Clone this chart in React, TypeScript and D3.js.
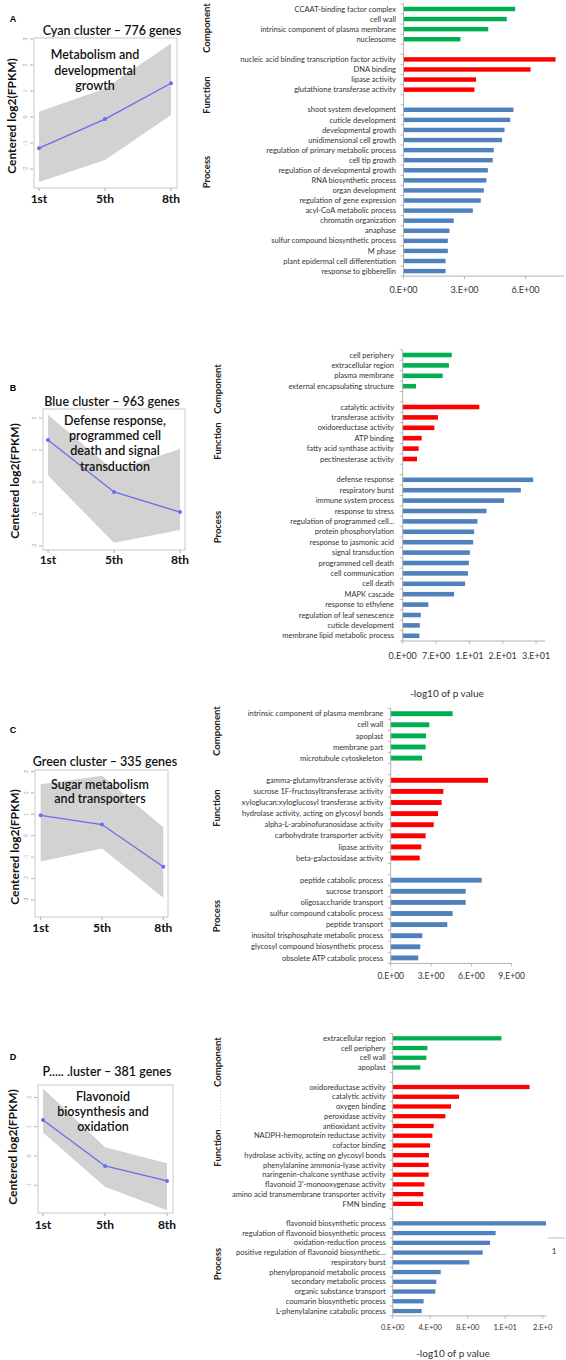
import React from "react";
import * as d3 from "d3";

// ---------- DATA ----------
const TIMEPOINTS = ["1st", "5th", "8th"];

// Cluster profiles (centered log2 FPKM): mean line and grey envelope (upper/lower)
const A_MEAN = [-1.2, -0.08, 1.3];
const A_UPPER = [0.2, 1.1, 2.83];
const A_LOWER = [-2.5, -1.65, 0.08];
const B_MEAN = [1.31, -0.31, -0.94];
const B_UPPER = [2.1, 0.35, 1.03];
const B_LOWER = [0.2, -1.9, -1.5];
const C_MEAN = [0.95, 0.52, -1.45];
const C_UPPER = [2.4, 2.8, 0.4];
const C_LOWER = [-1.2, -0.6, -2.9];
const D_MEAN = [1.23, -0.34, -0.85];
const D_UPPER = [2.3, 0.3, -0.25];
const D_LOWER = [0.8, -1.05, -1.85];

const A_YTICKS = [-2, -1, 0, 1, 2, 3];
const B_YTICKS = [-2, -1, 0, 1, 2];
const C_YTICKS = [-3, -2, -1, 0, 1, 2, 3];
const D_YTICKS = [-1, 0, 1, 2];

const A_TITLE = "Cyan cluster \u2013 776  genes";
const B_TITLE = "Blue cluster \u2013 963 genes";
const C_TITLE = "Green cluster \u2013 335 genes";
const D_TITLE = "P..... .luster \u2013 381 genes";

const A_NOTE = ["Metabolism and", "developmental", "growth"];
const B_NOTE = ["Defense response,", "programmed cell", "death and signal", "transduction"];
const C_NOTE = ["Sugar metabolism", "and transporters"];
const D_NOTE = ["Flavonoid", "biosynthesis and", "oxidation"];

// GO enrichment (-log10 p value)
const A_COMPONENT = ["CCAAT-binding factor complex", "cell wall", "intrinsic component of plasma membrane", "nucleosome"];
const A_COMPONENT_VALUES = [5.49, 5.08, 4.17, 2.8];
const A_FUNCTION = ["nucleic acid binding transcription factor activity", "DNA binding", "lipase activity", "glutathione transferase activity"];
const A_FUNCTION_VALUES = [7.48, 6.25, 3.57, 3.49];
const A_PROCESS = [
  "shoot system development", "cuticle development", "developmental growth", "unidimensional cell growth",
  "regulation of primary metabolic process", "cell tip growth", "regulation of developmental growth",
  "RNA biosynthetic process", "organ development", "regulation of gene expression", "acyl-CoA metabolic process",
  "chromatin organization", "anaphase", "sulfur compound biosynthetic process", "M phase",
  "plant epidermal cell differentiation", "response to gibberellin",
];
const A_PROCESS_VALUES = [5.41, 5.25, 4.97, 4.85, 4.44, 4.39, 4.15, 4.08, 3.95, 3.8, 3.41, 2.47, 2.26, 2.18, 2.18, 2.07, 2.07];
const A_XTICKS = [0, 3, 6];
const A_XTICK_LABELS = ["0.E+00", "3.E+00", "6.E+00"];

const B_COMPONENT = ["cell periphery", "extracellular region", "plasma membrane", "external encapsulating structure"];
const B_COMPONENT_VALUES = [10.3, 9.7, 8.4, 2.8];
const B_FUNCTION = ["catalytic activity", "transferase activity", "oxidoreductase activity", "ATP binding", "fatty acid synthase activity", "pectinesterase activity"];
const B_FUNCTION_VALUES = [16.1, 7.4, 6.65, 3.98, 3.35, 3.0];
const B_PROCESS = [
  "defense response", "respiratory burst", "immune system process", "response to stress",
  "regulation of programmed cell...", "protein phosphorylation", "response to jasmonic acid",
  "signal transduction", "programmed cell death", "cell communication", "cell death", "MAPK cascade",
  "response to ethylene", "regulation of leaf senescence", "cuticle development", "membrane lipid metabolic process",
];
const B_PROCESS_VALUES = [27.4, 24.8, 21.3, 17.6, 15.7, 15.0, 14.8, 14.1, 13.9, 13.7, 13.1, 10.8, 5.4, 3.8, 3.6, 3.5];
const B_XTICKS = [0, 7, 14, 21, 28];
const B_XTICK_LABELS = ["0.E+00", "7.E+00", "1.E+01", "2.E+01", "3.E+01"];

const C_COMPONENT = ["intrinsic component of plasma membrane", "cell wall", "apoplast", "membrane part", "microtubule cytoskeleton"];
const C_COMPONENT_VALUES = [4.61, 2.87, 2.63, 2.6, 2.33];
const C_FUNCTION = [
  "gamma-glutamyltransferase activity", "sucrose 1F-fructosyltransferase activity",
  "xyloglucan:xyloglucosyl transferase activity", "hydrolase activity, acting on glycosyl bonds",
  "alpha-L-arabinofuranosidase activity", "carbohydrate transporter activity", "lipase activity", "beta-galactosidase activity",
];
const C_FUNCTION_VALUES = [7.24, 3.92, 3.79, 3.52, 3.2, 2.6, 2.28, 2.16];
const C_PROCESS = [
  "peptide catabolic process", "sucrose transport", "oligosaccharide transport", "sulfur compound catabolic process",
  "peptide transport", "inositol trisphosphate metabolic process", "glycosyl compound biosynthetic process",
  "obsolete ATP catabolic process",
];
const C_PROCESS_VALUES = [6.77, 5.58, 5.58, 4.61, 4.21, 2.35, 2.2, 2.05];
const C_XTICKS = [0, 3, 6, 9];
const C_XTICK_LABELS = ["0.E+00", "3.E+00", "6.E+00", "9.E+00"];

const D_COMPONENT = ["extracellular region", "cell periphery", "cell wall", "apoplast"];
const D_COMPONENT_VALUES = [11.6, 3.7, 3.59, 2.95];
const D_FUNCTION = [
  "oxidoreductase activity", "catalytic activity", "oxygen binding", "peroxidase activity", "antioxidant activity",
  "NADPH-hemoprotein reductase activity", "cofactor binding", "hydrolase activity, acting on glycosyl bonds",
  "phenylalanine ammonia-lyase activity", "naringenin-chalcone synthase activity", "flavonoid 3'-monooxygenase activity",
  "amino acid transmembrane transporter activity", "FMN binding",
];
const D_FUNCTION_VALUES = [14.6, 7.07, 6.22, 5.62, 4.37, 4.23, 3.98, 3.87, 3.84, 3.84, 3.39, 3.27, 3.23];
const D_PROCESS = [
  "flavonoid biosynthetic process", "regulation of flavonoid biosynthetic process", "oxidation-reduction process",
  "positive regulation of flavonoid biosynthetic...", "respiratory burst", "phenylpropanoid metabolic process",
  "secondary metabolic process", "organic substance transport", "coumarin biosynthetic process",
  "L-phenylalanine catabolic process",
];
const D_PROCESS_VALUES = [16.35, 10.98, 10.38, 9.6, 8.17, 5.12, 4.65, 4.55, 3.3, 3.09];
const D_XTICKS = [0, 4, 8, 12, 16];
const D_XTICK_LABELS = ["0.E+00", "4.E+00", "8.E+00", "1.E+01", "2.E+0"];

const CATEGORIES = ["Component", "Function", "Process"];
const AXIS_TITLE = "-log10 of p value";

// ---------- STYLE ----------
const GREEN = "#00b050";
const RED = "#ff0000";
const BLUE = "#4f81bd";
const MEAN_COLOR = "#6b6bef";
const ENVELOPE = "#d2d2d2";
const FONT = "Lato, 'Open Sans', sans-serif";

type LineCfg = {
  letter: string; letterPos: [number, number];
  title: string; titlePos: [number, number];
  box: [number, number, number, number];
  xRange: [number, number];
  yDomain: [number, number]; yRange: [number, number];
  yTicks: number[];
  mean: number[]; upper: number[]; lower: number[];
  note: string[]; noteX: number; noteY: number[];
  xLabelY: number; yLabelPos: [number, number];
};

const LINE_PANELS: LineCfg[] = [
  { letter: "A", letterPos: [13, 22], title: A_TITLE, titlePos: [112, 35], box: [34, 38, 177, 188], xRange: [39, 171],
    yDomain: [-2, 3], yRange: [169, 39], yTicks: A_YTICKS, mean: A_MEAN, upper: A_UPPER, lower: A_LOWER,
    note: A_NOTE, noteX: 95, noteY: [59, 75, 90], xLabelY: 203, yLabelPos: [12, 116] },
  { letter: "B", letterPos: [13, 391], title: B_TITLE, titlePos: [112, 406], box: [43, 409, 185, 550], xRange: [48, 180],
    yDomain: [-2, 2], yRange: [546, 418], yTicks: B_YTICKS, mean: B_MEAN, upper: B_UPPER, lower: B_LOWER,
    note: B_NOTE, noteX: 115, noteY: [425, 440, 455, 471], xLabelY: 564, yLabelPos: [15, 481] },
  { letter: "C", letterPos: [13, 733], title: C_TITLE, titlePos: [105, 766], box: [35, 770, 168, 917], xRange: [40.7, 163.3],
    yDomain: [-2, 3], yRange: [878.5, 771.5], yTicks: C_YTICKS, mean: C_MEAN, upper: C_UPPER, lower: C_LOWER,
    note: C_NOTE, noteX: 100, noteY: [789, 803], xLabelY: 932, yLabelPos: [15, 847] },
  { letter: "D", letterPos: [13, 1060], title: D_TITLE, titlePos: [107, 1076], box: [38, 1085, 173, 1213], xRange: [43, 167],
    yDomain: [-1, 2], yRange: [1185.3, 1097.4], yTicks: D_YTICKS, mean: D_MEAN, upper: D_UPPER, lower: D_LOWER,
    note: D_NOTE, noteX: 103, noteY: [1101, 1116, 1131], xLabelY: 1229, yLabelPos: [13, 1147] },
];

type Group = { labels: string[]; values: number[]; color: string };
type BarCfg = {
  groups: Group[];
  axisX: number; pxPerUnit: number; xMax: number;
  firstY: number; step: number; labelRight: number;
  xTicks: number[]; xTickLabels: string[]; tickFont: number; tickLabelY: number;
  catX: number; catY: number[];
  axisTitle?: [number, number];
};

const BAR_PANELS: BarCfg[] = [
  { groups: [
      { labels: A_COMPONENT, values: A_COMPONENT_VALUES, color: GREEN },
      { labels: A_FUNCTION, values: A_FUNCTION_VALUES, color: RED },
      { labels: A_PROCESS, values: A_PROCESS_VALUES, color: BLUE }],
    axisX: 403.5, pxPerUnit: 20.33, xMax: 7.9, firstY: 9, step: 10.08, labelRight: 396,
    xTicks: A_XTICKS, xTickLabels: A_XTICK_LABELS, tickFont: 9, tickLabelY: 293,
    catX: 207, catY: [28, 95, 172] },
  { groups: [
      { labels: B_COMPONENT, values: B_COMPONENT_VALUES, color: GREEN },
      { labels: B_FUNCTION, values: B_FUNCTION_VALUES, color: RED },
      { labels: B_PROCESS, values: B_PROCESS_VALUES, color: BLUE }],
    axisX: 402.7, pxPerUnit: 4.762, xMax: 29.9, firstY: 355, step: 10.4, labelRight: 394,
    xTicks: B_XTICKS, xTickLabels: B_XTICK_LABELS, tickFont: 9, tickLabelY: 658.5,
    catX: 218, catY: [389, 441, 527], axisTitle: [447, 697] },
  { groups: [
      { labels: C_COMPONENT, values: C_COMPONENT_VALUES, color: GREEN },
      { labels: C_FUNCTION, values: C_FUNCTION_VALUES, color: RED },
      { labels: C_PROCESS, values: C_PROCESS_VALUES, color: BLUE }],
    axisX: 390.7, pxPerUnit: 13.44, xMax: 9, firstY: 713.7, step: 11.1, labelRight: 383.3,
    xTicks: C_XTICKS, xTickLabels: C_XTICK_LABELS, tickFont: 8.5, tickLabelY: 979,
    catX: 217, catY: [731, 808, 916] },
  { groups: [
      { labels: D_COMPONENT, values: D_COMPONENT_VALUES, color: GREEN },
      { labels: D_FUNCTION, values: D_FUNCTION_VALUES, color: RED },
      { labels: D_PROCESS, values: D_PROCESS_VALUES, color: BLUE }],
    axisX: 392.7, pxPerUnit: 9.375, xMax: 16.4, firstY: 1038.3, step: 9.74, labelRight: 385.7,
    xTicks: D_XTICKS, xTickLabels: D_XTICK_LABELS, tickFont: 7.5, tickLabelY: 1329.5,
    catX: 218, catY: [1062, 1148, 1264], axisTitle: [453, 1357] },
];

// ---------- COMPONENTS ----------
function LinePanel({ c }: { c: LineCfg }) {
  const x = d3.scalePoint<string>().domain(TIMEPOINTS).range(c.xRange);
  const y = d3.scaleLinear().domain(c.yDomain).range(c.yRange);
  const area = d3.area<number>()
    .x((_, i) => x(TIMEPOINTS[i]) as number)
    .y0((_, i) => y(c.lower[i]))
    .y1((_, i) => y(c.upper[i]));
  const line = d3.line<number>().x((_, i) => x(TIMEPOINTS[i]) as number).y((d) => y(d));
  const [bx0, by0, bx1, by1] = c.box;
  return (
    <g>
      <text x={c.letterPos[0]} y={c.letterPos[1]} fontFamily="'Liberation Sans', Arial, sans-serif" fontWeight="bold" fontSize={9} textAnchor="middle">{c.letter}</text>
      <text x={c.titlePos[0]} y={c.titlePos[1]} fontFamily={FONT} fontSize={12.5} fontWeight={600} textAnchor="middle" fill="#111">{c.title}</text>
      <rect x={bx0} y={by0} width={bx1 - bx0} height={by1 - by0} fill="#fff" stroke="#c8c8c8" strokeWidth={1} />
      <path d={area(c.mean) || ""} fill={ENVELOPE} />
      <path d={line(c.mean) || ""} fill="none" stroke={MEAN_COLOR} strokeWidth={1.3} />
      {c.mean.map((v, i) => (
        <circle key={i} cx={x(TIMEPOINTS[i])} cy={y(v)} r={2} fill={MEAN_COLOR} />
      ))}
      {c.note.map((t, i) => (
        <text key={i} x={c.noteX} y={c.noteY[i]} fontFamily={FONT} fontSize={12.5} fontWeight={600} textAnchor="middle" fill="#111">{t}</text>
      ))}
      {c.yTicks.map((t) => (
        <g key={t}>
          <line x1={bx0 - 4} x2={bx0 - 1} y1={y(t)} y2={y(t)} stroke="#999" strokeWidth={0.8} />
          <text transform={`translate(${bx0 - 7},${y(t)}) rotate(-90)`} fontFamily={FONT} fontSize={5} textAnchor="middle" fill="#999">{t}</text>
        </g>
      ))}
      {TIMEPOINTS.map((t) => (
        <g key={t}>
          <line x1={x(t)} x2={x(t)} y1={by1} y2={by1 + 3} stroke="#999" strokeWidth={0.8} />
          <text x={x(t)} y={c.xLabelY} fontFamily={FONT} fontSize={12} fontWeight="bold" textAnchor="middle" fill="#111">{t}</text>
        </g>
      ))}
      <text transform={`translate(${c.yLabelPos[0]},${c.yLabelPos[1]}) rotate(-90)`} dy="0.35em" fontFamily={FONT} fontSize={12} fontWeight="bold" textAnchor="middle" fill="#111">Centered log2(FPKM)</text>
    </g>
  );
}

function BarPanel({ c }: { c: BarCfg }) {
  type Row = { key: string; label: string; value: number | null; color: string };
  const rows: Row[] = [];
  c.groups.forEach((g, gi) => {
    if (gi > 0) rows.push({ key: `gap${gi}`, label: "", value: null, color: "" });
    g.labels.forEach((l, i) => rows.push({ key: `${gi}-${i}`, label: l, value: g.values[i], color: g.color }));
  });
  const n = rows.length;
  const top = c.firstY - c.step / 2;
  const bottom = top + n * c.step;
  const y = d3.scaleBand<string>().domain(rows.map((r) => r.key)).range([top, bottom]).padding(0);
  const x = d3.scaleLinear().domain([0, c.xMax]).range([c.axisX, c.axisX + c.xMax * c.pxPerUnit]);
  const barH = c.step * 0.44;
  return (
    <g>
      {CATEGORIES.map((cat, i) => (
        <text key={cat} transform={`translate(${c.catX},${c.catY[i]}) rotate(-90)`} dy="0.35em" fontFamily={FONT} fontSize={9.5} fontWeight="bold" textAnchor="middle" fill="#222">{cat}</text>
      ))}
      {rows.map((r) => {
        const cy = (y(r.key) as number) + y.bandwidth() / 2;
        return r.value === null ? null : (
          <g key={r.key}>
            <rect x={x(0)} y={cy - barH / 2} width={x(r.value) - x(0)} height={barH} fill={r.color} />
            <text x={c.labelRight} y={cy} dy="0.35em" fontFamily={FONT} fontSize={7.5} textAnchor="end" fill="#333">{r.label}</text>
          </g>
        );
      })}
      {d3.range(n + 1).map((k) => (
        <line key={k} x1={c.axisX - 3} x2={c.axisX} y1={top + k * c.step} y2={top + k * c.step} stroke="#aaa" strokeWidth={0.8} />
      ))}
      <line x1={c.axisX} x2={c.axisX} y1={top} y2={bottom} stroke="#aaa" strokeWidth={0.9} />
      <line x1={c.axisX} x2={x(c.xMax)} y1={bottom} y2={bottom} stroke="#aaa" strokeWidth={0.9} />
      {c.xTicks.map((t, i) => (
        <g key={t}>
          <line x1={x(t)} x2={x(t)} y1={bottom} y2={bottom + 3} stroke="#aaa" strokeWidth={0.8} />
          <text x={x(t)} y={c.tickLabelY} fontFamily={FONT} fontSize={c.tickFont} textAnchor="middle" fill="#333">{c.xTickLabels[i]}</text>
        </g>
      ))}
      {c.axisTitle && (
        <text x={c.axisTitle[0]} y={c.axisTitle[1]} fontFamily={FONT} fontSize={10} textAnchor="middle" fill="#333">{AXIS_TITLE}</text>
      )}
    </g>
  );
}

export default function App() {
  return (
    <svg width={566} height={1360} style={{ position: "absolute", left: 0, top: 0, background: "#fff" }}>
      <rect width={566} height={1360} fill="#fff" />
      {LINE_PANELS.map((c) => <LinePanel key={c.letter} c={c} />)}
      {BAR_PANELS.map((c, i) => <BarPanel key={i} c={c} />)}
      {/* stray marks in panel D */}
      <line x1={220.5} x2={220.5} y1={1040} y2={1163} stroke="#bbb" strokeWidth={0.8} strokeDasharray="1,2" />
      <line x1={220.5} x2={220.5} y1={1245} y2={1277} stroke="#bbb" strokeWidth={0.8} strokeDasharray="1,2" />
      <line x1={548} x2={565} y1={1238} y2={1238} stroke="#aaa" strokeWidth={0.8} />
      <text x={554} y={1254} fontFamily={FONT} fontSize={8} textAnchor="middle" fill="#333">1</text>
    </svg>
  );
}
